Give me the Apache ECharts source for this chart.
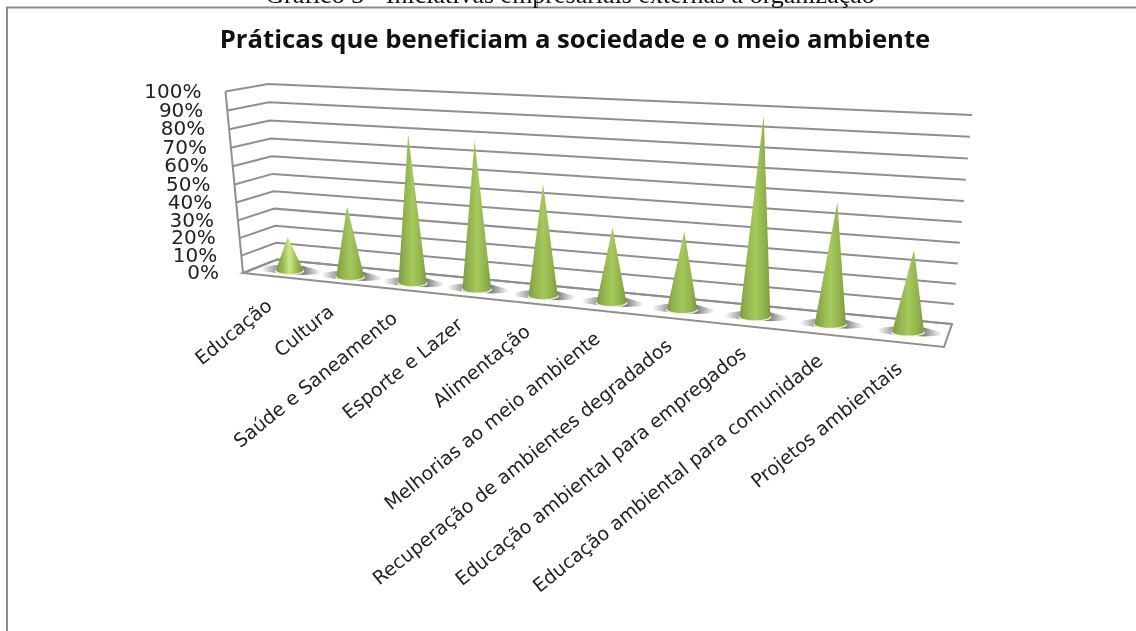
<!DOCTYPE html>
<html>
<head>
<meta charset="utf-8">
<title>Práticas que beneficiam a sociedade e o meio ambiente</title>
<script src="https://cdn.jsdelivr.net/npm/echarts@6/dist/echarts.min.js"></script>
<style>
  html, body { margin: 0; padding: 0; background: #fff; }
  #chart { width: 1136px; height: 631px; }
</style>
</head>
<body>
<div id="chart"></div>
<script>
var categories = [
  "Educação", "Cultura", "Saúde e Saneamento", "Esporte e Lazer", "Alimentação",
  "Melhorias ao meio ambiente", "Recuperação de ambientes degradados",
  "Educação ambiental para empregados", "Educação ambiental para comunidade",
  "Projetos ambientais"
];
var practiceValues = [19, 39, 80, 79, 59, 39, 40, 99, 60, 40];
var tickValues = [0, 10, 20, 30, 40, 50, 60, 70, 80, 90, 100];
var tickLabels = ["0%", "10%", "20%", "30%", "40%", "50%", "60%", "70%", "80%", "90%", "100%"];
var captionText = "Gráfico 3 - Iniciativas empresariais externas à organização";
var titleText = "Práticas que beneficiam a sociedade e o meio ambiente";

// cantos dos planos da cena 3D: [base esq, base dir, topo esq, topo dir]
var backWall = [[277, 259.5], [952, 324], [268, 84], [972, 115]];
var frontWall = [[243, 273], [944, 347], [225.5, 91.5], [966, 132]];
var conePlane = [[260, 267], [948, 335.5], [248, 88], [965, 123.5]];

// perspectiva: comprime um lado do intervalo 0..1
function warp(f, r) {
  return f / (f + r * (1 - f));
}
function lerp(a, b, f) {
  return [a[0] + (b[0] - a[0]) * f, a[1] + (b[1] - a[1]) * f];
}
function project(plane, t, v) {
  var s = warp(t, 1.17);
  var h = warp(v, 1.05);
  return lerp(lerp(plane[0], plane[1], s), lerp(plane[2], plane[3], s), h);
}
function toFractions(api, params, cat, value) {
  var p = api.coord([cat, value]);
  var cs = params.coordSys;
  return { t: (p[0] - cs.x) / cs.width, v: 1 - (p[1] - cs.y) / cs.height };
}
function hGradient(stops) {
  return new echarts.graphic.LinearGradient(0, 0, 1, 0, stops.map(function (c) {
    return { offset: c[0], color: c[1] };
  }));
}

var lineStyle = { stroke: "#8f8f8f", lineWidth: 2, fill: null };

// paredes, piso e rótulos do eixo de valores
function renderWall(params, api) {
  var f = toFractions(api, params, 0, api.value(1));
  var children = [];
  if (f.v === 0) {
    children.push({
      type: "polygon",
      shape: { points: [project(frontWall, 0, 0), project(frontWall, 1, 0), project(backWall, 1, 0), project(backWall, 0, 0)] },
      style: { fill: "#fff", stroke: "#8f8f8f", lineWidth: 2 }
    });
  }
  children.push({
    type: "polyline",
    shape: { points: [project(frontWall, 0, f.v), project(backWall, 0, f.v), project(backWall, 1, f.v)] },
    style: lineStyle
  });
  if (f.v === 1) {
    children.push({
      type: "line",
      shape: { x1: project(frontWall, 0, 0)[0], y1: project(frontWall, 0, 0)[1], x2: project(frontWall, 0, 1)[0], y2: project(frontWall, 0, 1)[1] },
      style: lineStyle
    });
  }
  var lp = project(frontWall, 0, f.v);
  children.push({
    type: "text",
    x: lp[0] - 24,
    y: lp[1] + 1,
    style: { text: tickLabels[params.dataIndex], align: "right", verticalAlign: "middle", fill: "#222", font: "20px 'DejaVu Sans'" }
  });
  return { type: "group", children: children };
}

function renderCone(params, api) {
  var f = toFractions(api, params, api.value(0), api.value(1));
  var base = project(conePlane, f.t, 0);
  var apex = project(conePlane, f.t, f.v);
  var s = warp(f.t, 1.17);
  var rx = 13.5 + 2.5 * s;
  var ry = 4;
  var conePts = [apex], rimPts = [], a;
  for (a = 0; a <= 24; a++) {
    var ang = Math.PI * a / 24;
    conePts.push([base[0] + rx * Math.cos(ang), base[1] + ry * Math.sin(ang)]);
  }
  for (a = 0; a < 48; a++) {
    var ang2 = Math.PI * a / 24;
    rimPts.push([base[0] + (rx + 1) * Math.cos(ang2), base[1] + 1 + ry * Math.sin(ang2)]);
  }
  var sx0 = base[0] - rx - 15, sx1 = base[0] + rx + 18;
  var shadow = [
    [sx0, base[1] - 3], [base[0] - rx, base[1] - 5], [base[0] + rx, base[1] - 4],
    [sx1, base[1] + 1], [sx1, base[1] + 4], [base[0] + rx, base[1] + 5], [base[0] - rx, base[1] + 3], [sx0, base[1] + 1]
  ];
  var mid = f.v < 0.25 ? "#cdea82" : "#a5c95c";
  return {
    type: "group",
    children: [
      {
        type: "polygon",
        shape: { points: shadow },
        style: {
          fill: hGradient([
            [0, "rgba(130,130,130,0)"], [0.22, "rgba(130,130,130,0.7)"],
            [0.72, "rgba(110,110,110,0.85)"], [1, "rgba(120,120,120,0)"]
          ])
        }
      },
      { type: "polygon", shape: { points: rimPts }, style: { fill: "#f1f5e4" } },
      {
        type: "polygon",
        shape: { points: conePts },
        style: {
          fill: hGradient([
            [0, "#7d9b3c"], [0.2, "#8fb14b"], [0.5, mid], [0.8, "#90b44b"], [1, "#7b993b"]
          ])
        }
      }
    ]
  };
}

function renderCategoryLabel(params, api) {
  var f = toFractions(api, params, api.value(0), 0);
  var p = project(frontWall, f.t, 0);
  var s = warp(f.t, 1.17);
  return {
    type: "text",
    x: p[0] - 3,
    y: p[1] + 28 - 4 * s,
    rotation: 39 * Math.PI / 180,
    style: {
      text: categories[params.dataIndex],
      align: "right",
      verticalAlign: "middle",
      fill: "#222",
      font: "19px 'DejaVu Sans'"
    }
  };
}

var chart = echarts.init(document.getElementById("chart"));
var option = {
  backgroundColor: "#fff",
  animation: false,
  title: [
    {
      text: captionText,
      left: 565,
      textAlign: "center",
      top: -22,
      textStyle: { fontFamily: "Liberation Serif", fontWeight: "normal", fontSize: 26, color: "#111" }
    },
    {
      text: titleText,
      left: 570,
      textAlign: "center",
      top: 23,
      textStyle: { fontFamily: "Open Sans", fontWeight: "bold", fontSize: 25.7, color: "#111" }
    }
  ],
  graphic: [
    {
      type: "polyline",
      shape: { points: [[7, 640], [7, 7.5], [1145, 7.5]] },
      style: { stroke: "#8c8c8c", lineWidth: 2, fill: null },
      silent: true
    },
    {
      type: "line",
      shape: { x1: 537.5, y1: 0, x2: 537.5, y2: 7 },
      style: { stroke: "#8c8c8c", lineWidth: 1 },
      silent: true
    }
  ],
  grid: { left: 260, top: 100, width: 690, height: 200 },
  xAxis: { type: "category", data: categories, show: false },
  yAxis: { type: "value", min: 0, max: 100, interval: 10, show: false },
  series: [
    {
      type: "custom",
      coordinateSystem: "cartesian2d",
      renderItem: renderWall,
      data: tickValues.map(function (v) { return [0, v]; }),
      silent: true,
      z: 1
    },
    {
      type: "custom",
      coordinateSystem: "cartesian2d",
      renderItem: renderCategoryLabel,
      data: categories.map(function (c, i) { return [i, 0]; }),
      silent: true,
      z: 2
    },
    {
      type: "custom",
      coordinateSystem: "cartesian2d",
      renderItem: renderCone,
      data: practiceValues.map(function (v, i) { return [i, v]; }),
      z: 3
    }
  ]
};
chart.setOption(option);
</script>
</body>
</html>
